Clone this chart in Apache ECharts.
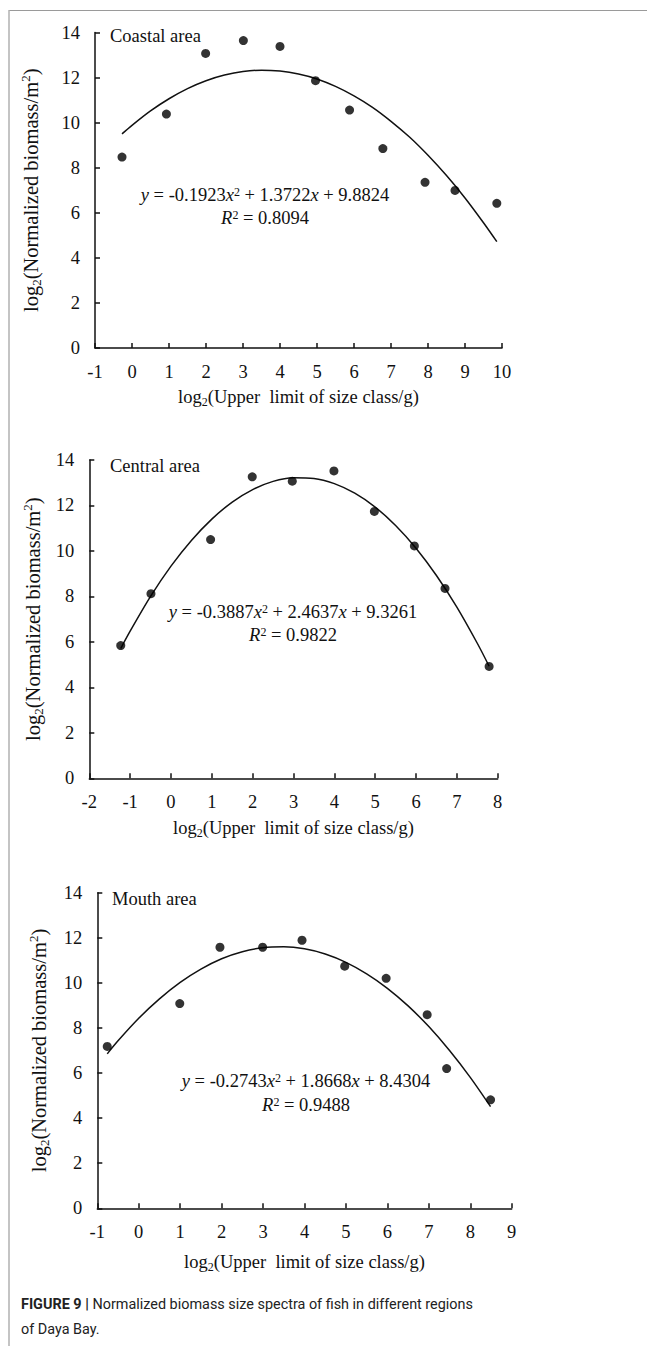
<!DOCTYPE html>
<html>
<head>
<meta charset="utf-8">
<script src="https://cdn.jsdelivr.net/npm/echarts@6/dist/echarts.min.js"></script>
<style>
  html, body { margin: 0; padding: 0; background: #fff; }
  #chart { width: 647px; height: 1346px; }
</style>
</head>
<body>
<div id="chart"></div>
<script>
var coastalX = [-0.27, 0.93, 1.99, 3.01, 4.0, 4.96, 5.88, 6.78, 7.92, 8.73, 9.86];
var coastalY = [8.47, 10.38, 13.07, 13.64, 13.38, 11.86, 10.56, 8.85, 7.35, 6.99, 6.42];
var centralX = [-1.23, -0.49, 0.97, 1.99, 2.97, 3.99, 4.98, 5.96, 6.71, 7.79];
var centralY = [5.84, 8.12, 10.5, 13.26, 13.07, 13.52, 11.74, 10.22, 8.35, 4.92];
var mouthX = [-0.76, 0.99, 1.96, 2.99, 3.94, 4.97, 5.97, 6.96, 7.43, 8.49];
var mouthY = [7.18, 9.08, 11.58, 11.58, 11.89, 10.74, 10.2, 8.59, 6.2, 4.81];

// trend curves
var coastalFitX = [-0.27, 0, 0.5, 1, 1.5, 2, 2.5, 3, 3.5, 4, 4.5, 5, 5.5, 6, 6.5, 7, 7.5, 8, 8.5, 9, 9.5, 9.86];
var coastalFitY = [9.50, 9.88, 10.52, 11.06, 11.51, 11.86, 12.11, 12.27, 12.33, 12.29, 12.16, 11.94, 11.61, 11.19, 10.68, 10.06, 9.36, 8.55, 7.65, 6.66, 5.56, 4.72];
var centralFitX = [-1.23, -1, -0.5, 0, 0.5, 1, 1.5, 2, 2.5, 3, 3.5, 4, 4.5, 5, 5.5, 6, 6.5, 7, 7.5, 7.79];
var centralFitY = [5.71, 6.47, 8.00, 9.33, 10.46, 11.40, 12.15, 12.70, 13.06, 13.22, 13.19, 12.96, 12.54, 11.93, 11.12, 10.12, 8.92, 7.53, 5.94, 4.93];
var mouthFitX = [-0.76, -0.5, 0, 0.5, 1, 1.5, 2, 2.5, 3, 3.5, 4, 4.5, 5, 5.5, 6, 6.5, 7, 7.5, 8, 8.49];
var mouthFitY = [6.85, 7.43, 8.43, 9.29, 10.02, 10.61, 11.07, 11.38, 11.56, 11.60, 11.51, 11.28, 10.91, 10.40, 9.76, 8.98, 8.06, 7.00, 5.81, 4.51];

var panelNames = ['Coastal area', 'Central area', 'Mouth area'];
var equations = [
  '{i|y} = -0.1923{i|x}{sup|2} + 1.3722{i|x} + 9.8824',
  '{i|y} = -0.3887{i|x}{sup|2} + 2.4637{i|x} + 9.3261',
  '{i|y} = -0.2743{i|x}{sup|2} + 1.8668{i|x} + 8.4304'
];
var r2Values = ['0.8094', '0.9822', '0.9488'];
var xRanges = [[-1, 10], [-2, 8], [-1, 9]];
var yTicks = [0, 14, 2];

var serif = '"Liberation Serif", "Times New Roman", "DejaVu Serif", serif';
var ink = '#111';
var fs = 18.5;

function pairs(xs, ys) {
  return xs.map(function (x, i) { return [x, ys[i]]; });
}

var nameRich = {
  t: { fontFamily: serif, fontSize: fs, color: ink, lineHeight: 22 },
  sub: { fontFamily: serif, fontSize: 12, color: ink, verticalAlign: 'bottom', lineHeight: 11 },
  sup: { fontFamily: serif, fontSize: 12, color: ink, verticalAlign: 'top', lineHeight: 12 }
};
var yNameRich = {
  t: { fontFamily: serif, fontSize: 20.5, color: ink, lineHeight: 24 },
  sub: { fontFamily: serif, fontSize: 13, color: ink, verticalAlign: 'bottom', lineHeight: 12 },
  sup: { fontFamily: serif, fontSize: 13, color: ink, verticalAlign: 'top', lineHeight: 13 }
};

var grids = [
  { left: 95, top: 32.5, width: 407, height: 315.5 },
  { left: 89.3, top: 460, width: 408.4, height: 318.3 },
  { left: 97.3, top: 892.7, width: 414.4, height: 315.6 }
];
var xGaps = [38, 39, 43];
var yGaps = [52, 44, 46];

var axisLine = { show: true, onZero: false, lineStyle: { color: ink, width: 1.5 } };
var axisTick = { show: true, inside: true, length: 5, lineStyle: { color: ink, width: 1.5 } };

var xAxes = [], yAxes = [], series = [];
grids.forEach(function (g, i) {
  xAxes.push({
    gridIndex: i, type: 'value', min: xRanges[i][0], max: xRanges[i][1], interval: 1,
    axisLine: axisLine, axisTick: axisTick, splitLine: { show: false },
    axisLabel: { color: ink, fontFamily: serif, fontSize: fs, margin: 14 },
    name: '{t|log}{sub|2}{t|(Upper  limit of size class/g)}',
    nameLocation: 'middle', nameGap: xGaps[i],
    nameTextStyle: { rich: nameRich }
  });
  yAxes.push({
    gridIndex: i, type: 'value', min: yTicks[0], max: yTicks[1], interval: yTicks[2],
    axisLine: axisLine, axisTick: axisTick, splitLine: { show: false },
    axisLabel: { color: ink, fontFamily: serif, fontSize: fs, margin: 15 },
    name: '{t|log}{sub|2}{t|(Normalized biomass/m}{sup|2}{t|)}',
    nameLocation: 'middle', nameGap: yGaps[i], nameRotate: 90,
    nameTextStyle: { rich: yNameRich }
  });
});

var pts = [pairs(coastalX, coastalY), pairs(centralX, centralY), pairs(mouthX, mouthY)];
var fits = [pairs(coastalFitX, coastalFitY), pairs(centralFitX, centralFitY), pairs(mouthFitX, mouthFitY)];

pts.forEach(function (d, i) {
  series.push({
    type: 'line', xAxisIndex: i, yAxisIndex: i, data: fits[i],
    smooth: 0.3, showSymbol: false, symbol: 'none',
    lineStyle: { color: ink, width: 1.5 }, z: 2, silent: true
  });
  series.push({
    type: 'scatter', xAxisIndex: i, yAxisIndex: i, data: d,
    symbolSize: 9, itemStyle: { color: '#000' }, z: 3
  });
});

var eqRich = {
  i: { fontFamily: serif, fontSize: fs, fontStyle: 'italic', color: ink },
  sup: { fontFamily: serif, fontSize: 12, color: ink, verticalAlign: 'top', lineHeight: 12 }
};

var labelPos = [[110, 36], [110, 466], [112, 899]];
var eqPos = [[265, 195, 218], [293, 612, 635], [306, 1081, 1105]];

var graphic = [
  { type: 'line', shape: { x1: 9, y1: 10.5, x2: 647, y2: 10.5 }, style: { stroke: '#9a9a9a', lineWidth: 1.2 } },
  { type: 'line', shape: { x1: 9, y1: 10, x2: 9, y2: 1346 }, style: { stroke: '#b0b0b0', lineWidth: 1.5 } }
];
panelNames.forEach(function (n, i) {
  graphic.push({
    type: 'text', x: labelPos[i][0], y: labelPos[i][1],
    style: { text: n, font: fs + 'px ' + serif, fill: ink, verticalAlign: 'middle' }
  });
  graphic.push({
    type: 'text', x: eqPos[i][0], y: eqPos[i][1],
    style: { text: equations[i], font: fs + 'px ' + serif, fill: ink, align: 'center', verticalAlign: 'middle', rich: eqRich }
  });
  graphic.push({
    type: 'text', x: eqPos[i][0], y: eqPos[i][2],
    style: { text: '{i|R}{sup|2} = ' + r2Values[i], font: fs + 'px ' + serif, fill: ink, align: 'center', verticalAlign: 'middle', rich: eqRich }
  });
});

var sans = '"Liberation Sans Narrow", "Roboto", sans-serif';
graphic.push({
  type: 'text', x: 21, y: 1304, scaleX: 0.93,
  style: {
    text: '{b|FIGURE 9 |} Normalized biomass size spectra of fish in different regions',
    font: '15.5px ' + sans, fill: '#222', verticalAlign: 'middle',
    rich: { b: { fontFamily: sans, fontSize: 15.5, fontWeight: 'bold', color: '#222' } }
  }
});
graphic.push({
  type: 'text', x: 21, y: 1329, scaleX: 0.93,
  style: { text: 'of Daya Bay.', font: '15.5px ' + sans, fill: '#222', verticalAlign: 'middle' }
});

var chart = echarts.init(document.getElementById('chart'), null, { renderer: 'svg' });
chart.setOption({
  animation: false,
  backgroundColor: '#fff',
  grid: grids,
  xAxis: xAxes,
  yAxis: yAxes,
  series: series,
  graphic: graphic
});
</script>
</body>
</html>
